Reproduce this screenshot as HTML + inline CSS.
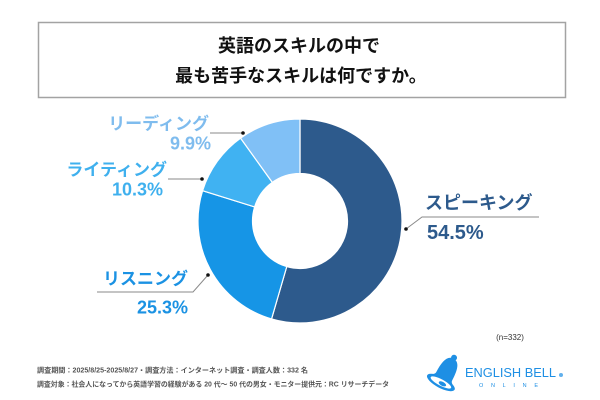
<!DOCTYPE html>
<html><head><meta charset="utf-8"><style>
html,body{margin:0;padding:0;background:#fff;}
svg{display:block;}
text{font-family:"Liberation Sans","Noto Sans CJK JP",sans-serif;}
</style></head><body>
<svg width="600" height="400" viewBox="0 0 600 400" xmlns="http://www.w3.org/2000/svg">
<rect x="0" y="0" width="600" height="400" fill="#fff"/>
<rect x="38.5" y="22.5" width="527" height="75" fill="#fff" stroke="#a3a3a3" stroke-width="1.5"/>
<text x="299" y="52" font-size="18" font-weight="bold" text-anchor="middle" fill="#111">英語のスキルの中で</text>
<text x="301" y="82" font-size="18" font-weight="bold" text-anchor="middle" fill="#111">最も苦手なスキルは何ですか。</text>

<g stroke="#fff" stroke-width="1.2">
<path d="M300,119 A102,102 0 1 1 271.54,318.95 L286.75,266.61 A47.5,47.5 0 1 0 300,173.5 Z" fill="#2d5a8c"/>
<path d="M271.54,318.95 A102,102 0 0 1 202.60,190.70 L254.64,206.89 A47.5,47.5 0 0 0 286.75,266.61 Z" fill="#1695e6"/>
<path d="M202.60,190.70 A102,102 0 0 1 240.56,138.10 L272.32,182.40 A47.5,47.5 0 0 0 254.64,206.89 Z" fill="#40b2f2"/>
<path d="M240.56,138.10 A102,102 0 0 1 300,119 L300,173.5 A47.5,47.5 0 0 0 272.32,182.40 Z" fill="#80c0f6"/>
</g>

<g stroke="#8a8a8a" stroke-width="1" fill="none">
<polyline points="210,133 243,133"/>
<polyline points="168,179 202,179"/>
<polyline points="406,229 422,217 539,217"/>
<polyline points="97,292 193,292 208,275"/>
</g>
<g fill="#111">
<circle cx="243" cy="133" r="1.8"/>
<circle cx="202" cy="179" r="1.8"/>
<circle cx="406" cy="229" r="1.8"/>
<circle cx="208" cy="275" r="1.8"/>
</g>

<text x="209" y="129.5" font-size="17" font-weight="bold" text-anchor="end" fill="#7fbcee">リーディング</text>
<text x="211" y="149.5" font-size="18" font-weight="bold" text-anchor="end" fill="#7fbcee">9.9%</text>

<text x="167" y="175.5" font-size="17" font-weight="bold" text-anchor="end" fill="#3fb0ee">ライティング</text>
<text x="163" y="195.5" font-size="18" font-weight="bold" text-anchor="end" fill="#3fb0ee">10.3%</text>

<text x="425" y="209" font-size="18" font-weight="bold" fill="#2d5a8c">スピーキング</text>
<text x="427" y="239" font-size="20" font-weight="bold" fill="#2d5a8c">54.5%</text>

<text x="188" y="284.5" font-size="17" font-weight="bold" text-anchor="end" fill="#1b92e3">リスニング</text>
<text x="188" y="313.5" font-size="18" font-weight="bold" text-anchor="end" fill="#1b92e3">25.3%</text>

<text x="510" y="340" font-size="8" text-anchor="middle" fill="#333">(n=332)</text>

<text x="37" y="372.5" font-size="7" font-weight="bold" fill="#555" textLength="271" lengthAdjust="spacingAndGlyphs">調査期間：2025/8/25-2025/8/27・調査方法：インターネット調査・調査人数：332 名</text>
<text x="37" y="386.5" font-size="7" font-weight="bold" fill="#555" textLength="352" lengthAdjust="spacingAndGlyphs">調査対象：社会人になってから英語学習の経験がある 20 代〜 50 代の男女・モニター提供元：RC リサーチデータ</text>

<g transform="translate(447,371) rotate(28)" fill="#1e8fe4">
<circle cx="0" cy="-15" r="3"/>
<path d="M-9,6 C-9,-6 -7,-14 0,-14 C7,-14 9,-6 9,6 C9,9 13,10 15,12 L-15,12 C-13,10 -9,9 -9,6 Z"/>
<ellipse cx="0" cy="13" rx="15.5" ry="5.5"/>
<ellipse cx="0" cy="13" rx="11.5" ry="3.2" fill="#fff"/>
<ellipse cx="2" cy="13.5" rx="4" ry="2"/>
</g>
<text x="465" y="377" font-size="13" fill="#1e8fe4" textLength="91" lengthAdjust="spacingAndGlyphs">ENGLISH BELL</text>
<circle cx="561" cy="375" r="2" fill="#1e8fe4" opacity="0.7"/>
<text x="479" y="387" font-size="5.5" fill="#1e8fe4" textLength="59" lengthAdjust="spacing">ONLINE</text>
</svg>
</body></html>
